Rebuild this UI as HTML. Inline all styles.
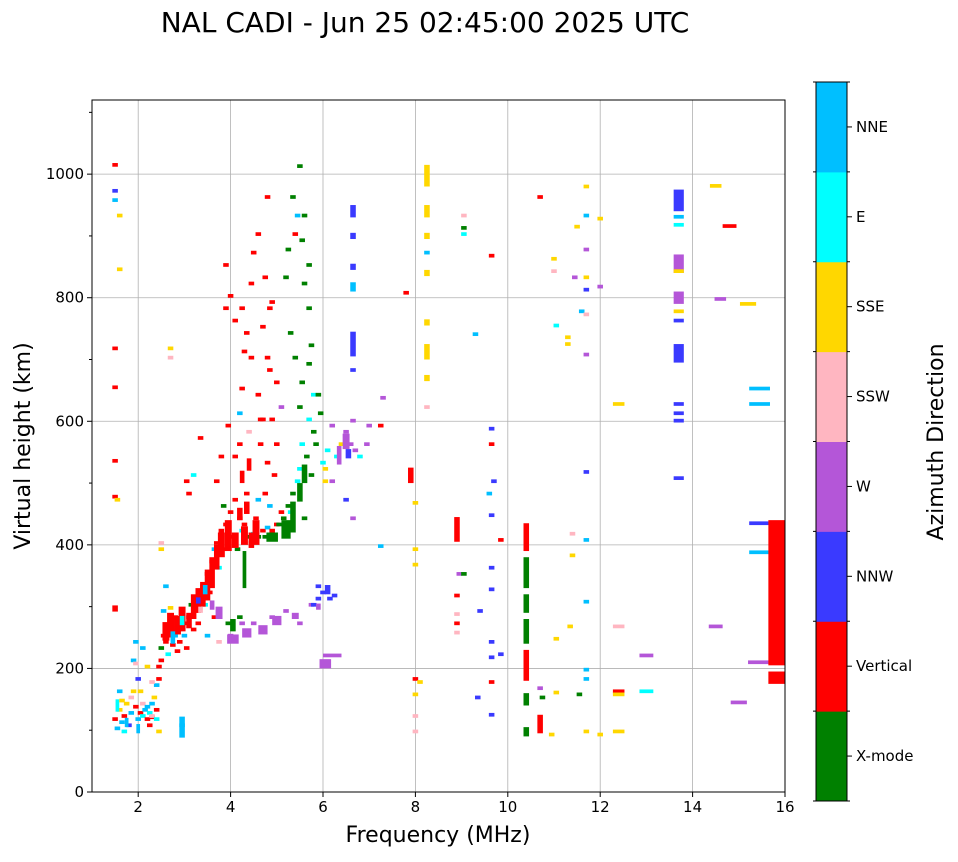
<!DOCTYPE html>
<html><head><meta charset="utf-8">
<style>
body{margin:0;background:#fff;font-family:"Liberation Sans","DejaVu Sans",sans-serif;}
svg text{font-family:"DejaVu Sans","Liberation Sans",sans-serif;}
</style></head>
<body>
<svg id="chart" width="958" height="857" xmlns="http://www.w3.org/2000/svg">
<text x="425" y="32" font-size="28" text-anchor="middle">NAL CADI - Jun 25 02:45:00 2025 UTC</text>
<g id="grid"></g>
<g id="marks"></g>
<rect x="92" y="100" width="693" height="692" fill="none" stroke="#000" stroke-width="1"/>
<g id="axes"></g>
<text x="438" y="842" font-size="22" text-anchor="middle">Frequency (MHz)</text>
<text transform="translate(30,446) rotate(-90)" font-size="22" text-anchor="middle">Virtual height (km)</text>
<g id="cbar"></g>
<text transform="translate(943,442) rotate(-90)" font-size="22" text-anchor="middle">Azimuth Direction</text>
</svg>
<script>
const dirNames=["X-mode","Vertical","NNW","W","SSW","SSE","E","NNE"];
const dirColors=["#008000","#ff0000","#3a3aff","#b456d8","#ffb6c1","#ffd700","#00ffff","#00bfff"];
const xTicks=[2,4,6,8,10,12,14,16];
const yTicks=[0,200,400,600,800,1000];
// [freqMHz, heightLow km, heightHigh km (0=single), dirIndex, widthMHz(optional)]
const marks=[
[1.5,1012,0,1],[1.5,970,0,2],[1.5,955,0,7],[1.6,930,0,5],[1.6,843,0,5],[1.5,715,0,1],[1.5,652,0,1],[1.5,533,0,1],[1.5,475,0,1],[1.5,292,302,1],[1.55,470,0,5],
[1.5,115,0,1],[1.55,100,0,7],[1.6,130,0,5],[1.65,110,0,7],[1.7,120,0,1],[1.6,160,0,7],[1.7,95,0,6],[1.75,140,0,5],[1.8,105,0,2],[1.85,125,0,7],[1.9,160,0,5],[1.9,210,0,7],[1.95,240,0,7],[1.95,135,0,1],[2.0,115,0,7],[2.0,180,0,2],[2.05,125,0,1],[2.1,120,0,6],[2.15,130,0,7],[2.2,115,0,1],[2.2,200,0,5],[2.25,125,0,6],[2.3,140,0,7],[2.3,118,0,1],[2.35,150,0,5],[2.4,130,0,1],[2.4,170,0,7],[2.45,200,0,1],[2.45,95,0,5],[2.5,210,0,1],[2.5,400,0,4],[2.5,390,0,5],[2.5,230,0,0],[2.55,250,0,1],[2.55,290,0,7],[2.6,240,0,1],[2.6,330,0,7],[2.65,260,0,1],[2.65,220,0,6],[2.7,270,0,1],[2.7,295,0,5],[2.7,700,0,4],[2.7,715,0,5],[2.75,235,0,1],[2.8,250,0,7],[2.8,280,0,1],[2.85,225,0,1],[2.9,260,0,6],[2.9,240,0,1],[2.95,105,0,7],[2.95,88,122,7],[3.0,270,0,1],[3.0,250,0,7],[3.05,230,0,1],[3.05,500,0,1],[3.1,280,0,1],[3.1,480,0,1],[3.15,300,0,0],[3.2,260,0,1],[3.2,510,0,6],[3.25,290,0,1],[3.3,310,0,7],[3.3,270,0,1],[3.35,570,0,1],[3.4,330,0,1],[3.45,300,0,6],[3.5,350,0,1],[3.5,250,0,7],[3.55,320,0,1],[3.6,370,0,1],[3.65,390,0,7],[3.65,280,0,1],[3.7,400,0,1],[3.7,500,0,1],[3.75,360,0,6],[3.75,240,0,4],[3.8,420,0,1],[3.8,540,0,1],[3.85,390,0,1],[3.85,460,0,0],[3.9,430,0,1],[3.9,780,0,1],[3.9,850,0,1],[3.95,400,0,7],[3.95,270,0,0],[4.0,450,0,1],[4.0,250,0,3],[4.0,800,0,1],[4.05,410,0,1],[4.1,470,0,1],[4.1,760,0,1],[4.15,390,0,0],[4.2,440,0,1],[4.2,610,0,7],[4.25,420,0,6],[4.25,270,0,3],[4.3,430,0,1],[4.3,710,0,1],[4.35,480,0,1],[4.4,410,0,0],[4.4,580,0,4],[4.45,400,0,1],[4.45,700,0,1],[4.5,415,0,6],[4.5,870,0,1],[4.5,270,0,3],[4.55,440,0,1],[4.6,410,0,0],[4.6,640,0,1],[4.65,600,0,1],[4.7,420,0,1],[4.7,750,0,1],[4.75,410,0,0],[4.8,425,0,7],[4.8,960,0,1],[4.85,410,0,0],[4.85,680,0,1],[4.9,420,0,1],[4.9,790,0,1],[4.9,280,0,3],[4.95,410,0,0],[5.0,430,0,1],[5.0,660,0,1],[5.05,430,0,0],[5.1,450,0,1],[5.1,620,0,3],[5.15,440,0,0],[5.2,830,0,0],[5.2,290,0,3],[5.25,460,0,0],[5.25,875,0,0],[5.3,450,0,6],[5.3,740,0,0],[5.35,480,0,0],[5.4,900,0,1],[5.4,700,0,0],[5.45,500,0,6],[5.45,930,0,7],[5.5,1010,0,0],[5.5,520,0,6],[5.5,270,0,3],[5.55,560,0,6],[5.6,820,0,0],[5.6,930,0,0],[5.65,540,0,0],[5.7,780,0,0],[5.7,600,0,6],[5.75,510,0,0],[5.75,300,0,3],[5.8,640,0,6],[5.8,300,0,2],[5.85,560,0,0],[5.9,310,0,2],[6.0,530,0,6],[6.0,320,0,2],[6.05,500,0,5],[6.1,550,0,6],[6.15,310,0,2],[6.2,218,0,3,0.4],[6.2,590,0,3],[6.3,540,0,6],[6.4,560,0,5],[6.5,580,0,3],[6.5,470,0,2],[6.6,560,0,3],[6.7,550,0,3],[6.8,540,0,6],[6.95,560,0,3],[7.0,590,0,3],[7.25,590,0,1],[7.3,635,0,3],[7.25,395,0,7],
[2.6,245,275,1,0.15],[2.7,250,290,1,0.15],[2.85,255,285,1,0.15],[2.95,260,300,1,0.15],[3.1,265,290,1,0.12],[3.2,280,320,1,0.12],[3.3,290,330,1,0.12],[3.4,300,340,1,0.12],[3.5,310,360,1,0.12],[3.6,330,380,1,0.12],[3.7,360,400,1,0.12],[3.8,380,420,1,0.15],[3.95,390,440,1,0.15],[4.1,395,420,1,0.15],[4.3,400,430,1,0.15],[4.45,395,420,1,0.12],[4.55,400,440,1,0.15],
[2.75,240,260,7,0.1],[2.95,270,285,6,0.1],[3.3,305,315,2,0.1],[3.45,320,335,7,0.1],[3.35,290,300,4,0.1],[3.6,295,310,3,0.1],[3.75,280,300,3,0.15],
[4.2,440,460,1,0.12],[4.35,450,470,1,0.12],[4.25,500,520,1,0.1],[4.4,520,540,1,0.1],[4.2,560,0,1],[4.1,540,0,1],[3.95,590,0,1],[4.25,650,0,1],[4.35,740,0,1],[4.25,780,0,1],[4.45,820,0,1],[4.65,560,0,1],[4.7,600,0,1],[4.8,700,0,1],[4.8,530,0,1],[4.95,510,0,1],[4.9,600,0,1],[4.75,830,0,1],[4.6,900,0,1],[4.85,780,0,1],[5.0,560,0,1],[4.75,480,0,1],[4.6,470,0,7],[4.85,460,0,7],
[4.9,405,420,0,0.25],[5.2,410,440,0,0.2],[5.35,420,470,0,0.12],[5.5,470,500,0,0.12],[5.6,500,530,0,0.12],[5.5,620,0,0],[5.55,660,0,0],[5.7,690,0,0],[5.75,720,0,0],[5.7,850,0,0],[5.55,890,0,0],[5.35,960,0,0],[5.8,580,0,0],[5.9,640,0,0],[5.95,610,0,0],[5.6,440,0,0],[4.3,330,390,0,0.08],[4.05,260,280,0,0.12],[4.2,280,0,0],
[4.05,240,255,3,0.25],[4.35,250,265,3,0.2],[4.7,255,270,3,0.2],[5.0,270,285,3,0.2],[5.4,280,290,3,0.15],[5.9,295,305,3,0.1],[6.05,200,215,3,0.25],[5.9,330,0,2],[6.1,320,335,2,0.12],[6.25,315,0,2],
[6.5,555,580,3,0.15],[6.55,540,555,2,0.12],[6.35,530,560,3,0.1],[6.2,500,0,3],[6.05,520,0,5],
[1.55,130,150,6,0.08],[1.65,145,0,5],[1.75,105,120,7,0.08],[1.85,150,0,4],[2.0,95,110,7,0.08],[2.1,140,0,4],[2.2,135,0,7],[2.3,120,0,4],[2.4,115,0,6],[2.25,105,0,1],[2.05,160,0,5],[1.95,205,0,4],[2.1,230,0,7],[2.3,175,0,4],[2.45,180,0,1],
[6.65,930,950,2],[6.65,895,905,2],[6.65,845,855,2],[6.65,810,825,7],[6.65,705,745,2],[6.65,680,0,2],[6.65,440,0,3],[6.65,598,0,3],
[7.8,805,0,1],[7.9,500,525,1],
[8.25,980,1015,5],[8.25,930,950,5],[8.25,895,905,5],[8.25,870,0,7],[8.25,835,845,5],[8.25,755,765,5],[8.25,700,725,5],[8.25,665,675,5],[8.25,620,0,4],[8.0,465,0,5],[8.0,390,0,5],[8.0,365,0,5],[8.0,180,0,1],[8.0,155,0,5],[8.1,175,0,5],[8.0,120,0,4],[8.0,95,0,4],
[8.9,405,445,1],[8.95,350,0,3],[8.9,315,0,1],[8.9,285,0,4],[8.9,270,0,1],[8.9,255,0,4],[9.05,910,0,0],[9.05,900,0,6],[9.05,930,0,4],[9.05,350,0,0],[9.3,738,0,7],[9.4,290,0,2],[9.35,150,0,2],
[9.65,865,0,1],[9.65,585,0,2],[9.65,560,0,1],[9.7,500,0,2],[9.6,480,0,7],[9.65,445,0,2],[9.65,360,0,2],[9.65,325,0,2],[9.65,240,0,2],[9.65,215,0,2],[9.65,175,0,1],[9.65,122,0,2],[9.85,220,0,2],[9.85,405,0,1],
[10.4,390,435,1],[10.4,330,380,0],[10.4,290,320,0],[10.4,240,280,0],[10.4,180,230,1],[10.4,140,160,0],[10.4,90,105,0],
[10.7,960,0,1],[10.7,165,0,3],[10.7,95,125,1],[10.75,150,0,0],[10.95,90,0,5],[11.0,860,0,5],[11.0,840,0,4],[11.05,752,0,6],[11.05,245,0,5],[11.05,158,0,5],[11.3,733,0,5],[11.3,722,0,5],[11.4,415,0,4],[11.4,380,0,5],[11.35,265,0,5],[11.45,830,0,3],[11.5,912,0,5],[11.55,155,0,0],[11.6,775,0,7],[11.7,977,0,5],[11.7,930,0,7],[11.7,875,0,3],[11.7,830,0,5],[11.7,810,0,2],[11.7,770,0,4],[11.7,705,0,3],[11.7,515,0,2],[11.7,405,0,7],[11.7,305,0,7],[11.7,195,0,7],[11.7,180,0,7],[11.7,95,0,5],[12.0,925,0,5],[12.0,815,0,3],[12.0,90,0,5],
[12.4,625,0,5,0.25],[12.4,265,0,4,0.25],[12.4,160,0,1,0.25],[12.4,155,0,5,0.25],[12.4,95,0,5,0.25],[13.0,218,0,3,0.3],[13.0,160,0,6,0.3],
[13.7,940,975,2,0.22],[13.7,928,0,7,0.22],[13.7,915,0,6,0.22],[13.7,840,870,3,0.22],[13.7,840,0,5,0.22],[13.7,790,810,3,0.22],[13.7,775,0,5,0.22],[13.7,760,0,2,0.22],[13.7,695,725,2,0.22],[13.7,625,0,2,0.22],[13.7,610,0,2,0.22],[13.7,598,0,2,0.22],[13.7,505,0,2,0.22],
[14.5,978,0,5,0.25],[14.6,795,0,3,0.25],[14.5,265,0,3,0.3],[14.8,913,0,1,0.3],[15.0,142,0,3,0.35],[15.2,787,0,5,0.35],
[15.45,650,0,7,0.45],[15.45,625,0,7,0.45],[15.45,432,0,2,0.45],[15.45,385,0,7,0.45],[15.45,207,0,3,0.5],
[15.82,205,440,1,0.36],[15.82,175,195,1,0.36]
];
const NS="http://www.w3.org/2000/svg";
const X0=92,X1=785,Y0=792,Y1=100,FMIN=1,FMAX=16,HMAX=1120;
const xs=f=>X0+(f-FMIN)/(FMAX-FMIN)*(X1-X0);
const ys=h=>Y0-h/HMAX*(Y0-Y1);
function mk(tag,attrs,parent){const e=document.createElementNS(NS,tag);for(const k in attrs)e.setAttribute(k,attrs[k]);parent.appendChild(e);return e;}
const grid=document.getElementById('grid'),axes=document.getElementById('axes'),mg=document.getElementById('marks'),cb=document.getElementById('cbar');
xTicks.forEach(t=>{const x=xs(t);
 if(t<16){const g=mk('line',{x1:x,x2:x,y1:Y1,y2:Y0,stroke:'#b0b0b0','stroke-width':0.8},grid);}
 mk('line',{x1:x,x2:x,y1:Y0,y2:Y0+5,stroke:'#000'},axes);
 const tx=mk('text',{x:x,y:Y0+20,'font-size':15,'text-anchor':'middle'},axes);tx.textContent=t;
 });
yTicks.forEach(t=>{const y=ys(t);
 if(t>0){const g=mk('line',{x1:X0,x2:X1,y1:y,y2:y,stroke:'#b0b0b0','stroke-width':0.8},grid);}
 mk('line',{x1:X0-5,x2:X0,y1:y,y2:y,stroke:'#000'},axes);
 const tx=mk('text',{x:X0-8,y:y+5,'font-size':15,'text-anchor':'end'},axes);tx.textContent=t;
 });
for(let h=100;h<=1100;h+=200){mk('line',{x1:X0-3,x2:X0,y1:ys(h),y2:ys(h),stroke:'#000'},axes);}
marks.forEach(m=>{const w=m[4]||0.12;const lo=m[1],hi=m[2]||m[1]+6;
 const r=mk('rect',{x:xs(m[0]-w/2),y:ys(hi),width:xs(m[0]+w/2)-xs(m[0]-w/2),height:Math.max(3,ys(lo)-ys(hi)),fill:dirColors[m[3]]},mg);
 
 });
const CX=816,CW=31,CT=82,CB=801,seg=(CB-CT)/dirNames.length;
dirNames.forEach((n,i)=>{const y=CB-(i+1)*seg;
 const r=mk('rect',{x:CX,y:y,width:CW,height:seg+0.5,fill:dirColors[i]},cb);
 
 mk('line',{x1:CX+CW,x2:CX+CW+5,y1:y+seg/2,y2:y+seg/2,stroke:'#000'},cb);
 const t=mk('text',{x:CX+CW+9,y:y+seg/2+5,'font-size':15},cb);t.textContent=n;
 });
for(let i=0;i<=dirNames.length;i++){const y=CB-i*seg;mk('line',{x1:CX+CW,x2:CX+CW+3,y1:y,y2:y,stroke:'#000'},cb);mk('line',{x1:CX-3,x2:CX,y1:y,y2:y,stroke:'#000'},cb);}
mk('rect',{x:CX,y:CT,width:CW,height:CB-CT,fill:'none',stroke:'#000'},cb);
</script>
</body></html>
